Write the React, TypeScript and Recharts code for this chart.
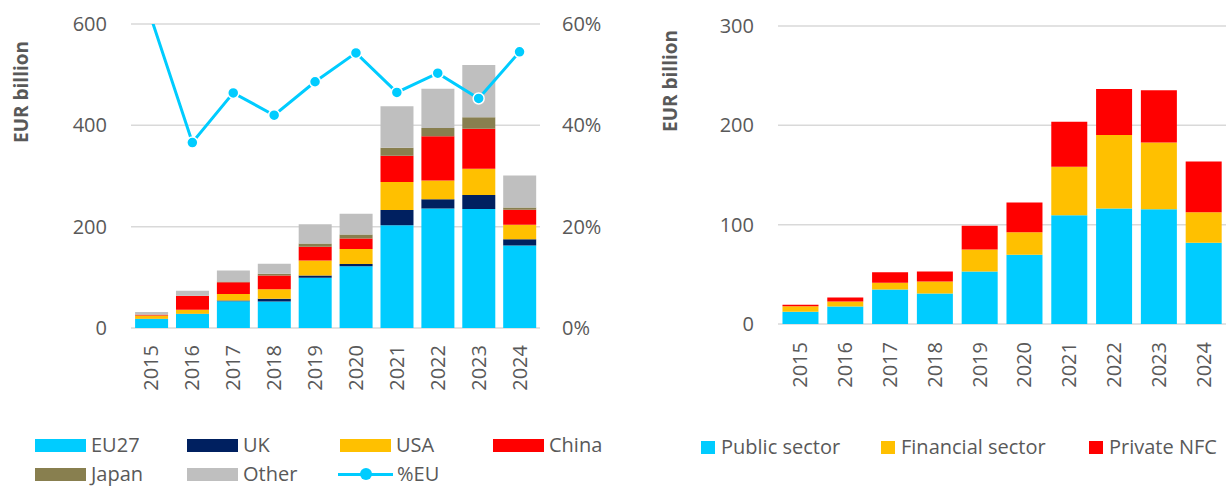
import { ComposedChart, BarChart, Bar, Line, XAxis, YAxis, CartesianGrid, Label } from "recharts";

const years = ["2015", "2016", "2017", "2018", "2019", "2020", "2021", "2022", "2023", "2024"];

// left panel, EUR billion by investor
const eu27 = [18, 27.5, 53, 52.5, 99, 122, 203, 236, 235, 163];
const uk = [0.5, 0.5, 1.5, 5, 4.5, 4.5, 30, 18, 27.5, 12];
const usa = [6, 8, 12.5, 19, 29.5, 29.5, 55, 37, 52, 29];
const china = [1.5, 27, 23.5, 27, 27.5, 20.5, 52, 87.5, 79, 29.5];
const japan = [0.5, 0.5, 1.5, 3.5, 6.5, 8, 16, 16, 22.5, 4.5];
const other = [5, 10, 21.5, 20, 38, 41, 81.5, 77.5, 103, 63];
const pctEU = [0.61, 0.366, 0.464, 0.42, 0.486, 0.543, 0.465, 0.503, 0.453, 0.545];

// right panel, EUR billion by sector
const publicSector = [12.4, 17.7, 34.8, 30.8, 52.9, 69.6, 109.5, 116.2, 115.5, 81.7];
const financialSector = [5.4, 5, 6.7, 12, 22, 22.8, 48.9, 74, 67.3, 30.8];
const privateNFC = [1.7, 4, 10.7, 10, 24, 30, 45.2, 46.5, 52.6, 51.2];

const leftTicks = [0, 200, 400, 600];
const pctTicks = [0, 0.2, 0.4, 0.6];
const rightTicks = [0, 100, 200, 300];

const leftData = years.map((year, i) => ({
  year,
  eu27: eu27[i],
  uk: uk[i],
  usa: usa[i],
  china: china[i],
  japan: japan[i],
  other: other[i],
  pctEU: pctEU[i],
}));

const rightData = years.map((year, i) => ({
  year,
  publicSector: publicSector[i],
  financialSector: financialSector[i],
  privateNFC: privateNFC[i],
}));

const TEXT = "#595959";
const GRID = "#d9d9d9";
const C = {
  eu27: "#00CCFF",
  uk: "#002060",
  usa: "#FFC000",
  china: "#FF0000",
  japan: "#887F4F",
  other: "#BFBFBF",
};

const YearTick = (props: any) => {
  const { x, y, payload } = props;
  return (
    <text
      x={x}
      y={y}
      transform={`rotate(-90 ${x} ${y})`}
      textAnchor="end"
      dy="0.35em"
      fontSize={20}
      fill={TEXT}
    >
      {payload.value}
    </text>
  );
};

const PctDot = (props: any) => {
  const { cx, cy, payload, index } = props;
  if (payload.pctEU > 0.6) return <g key={`d-${index}`} />;
  return <circle key={`d-${index}`} cx={cx} cy={cy} r={5.5} fill={C.eu27} stroke="#fff" strokeWidth={1.5} />;
};

const axisTitle = (x: number, y: number) => () => (
  <text
    x={x}
    y={y}
    transform={`rotate(-90 ${x} ${y})`}
    textAnchor="middle"
    dominantBaseline="central"
    fontSize={19}
    fontWeight="bold"
    fill={TEXT}
  >
    EUR billion
  </text>
);

const legendText = { position: "absolute" as const, fontSize: 20, color: TEXT, lineHeight: "20px", whiteSpace: "nowrap" as const };

function Swatch({ x, y, w, color }: { x: number; y: number; w: number; color: string }) {
  return <div style={{ position: "absolute", left: x, top: y - 6.5, width: w, height: 13, background: color }} />;
}

function LeftLegend() {
  const items = [
    { name: "EU27", color: C.eu27, col: 0, row: 0 },
    { name: "UK", color: C.uk, col: 1, row: 0 },
    { name: "USA", color: C.usa, col: 2, row: 0 },
    { name: "China", color: C.china, col: 3, row: 0 },
    { name: "Japan", color: C.japan, col: 0, row: 1 },
    { name: "Other", color: C.other, col: 1, row: 1 },
  ];
  const colX = [35, 187, 340, 493];
  const rowY = [445, 474];
  return (
    <>
      {items.map((it) => (
        <div key={it.name}>
          <Swatch x={colX[it.col]} y={rowY[it.row]} w={51} color={it.color} />
          <span style={{ ...legendText, left: colX[it.col] + 56, top: rowY[it.row] - 10 }}>{it.name}</span>
        </div>
      ))}
      <div style={{ position: "absolute", left: 338, top: rowY[1] - 1.5, width: 55, height: 3, background: C.eu27 }} />
      <div style={{ position: "absolute", left: 360, top: rowY[1] - 6, width: 12, height: 12, borderRadius: 6, background: C.eu27 }} />
      <span style={{ ...legendText, left: 397, top: rowY[1] - 10 }}>%EU</span>
    </>
  );
}

function RightLegend() {
  const items = [
    { name: "Public sector", color: C.eu27, x: 701 },
    { name: "Financial sector", color: C.usa, x: 881 },
    { name: "Private NFC", color: C.china, x: 1089 },
  ];
  return (
    <>
      {items.map((it) => (
        <div key={it.name}>
          <Swatch x={it.x} y={447} w={14} color={it.color} />
          <span style={{ ...legendText, left: it.x + 20, top: 447 - 10 }}>{it.name}</span>
        </div>
      ))}
    </>
  );
}

export default function App() {
  return (
    <div
      style={{
        position: "absolute",
        left: 0,
        top: 0,
        width: 1227,
        height: 486,
        background: "#fff",
        fontFamily: "'Open Sans', sans-serif",
        overflow: "hidden",
      }}
    >
      <div style={{ position: "absolute", left: 0, top: 0 }}>
        <ComposedChart width={620} height={486} data={leftData} margin={{ top: 24, right: 0, bottom: 0, left: 0 }} barCategoryGap="10%">
          <CartesianGrid vertical={false} stroke={GRID} strokeWidth={1.5} />
          <XAxis dataKey="year" height={158} tickSize={0} tickMargin={17} axisLine={false} tickLine={false} interval={0} tick={<YearTick />} />
          <YAxis
            width={131}
            domain={[0, 600]}
            ticks={leftTicks}
            tickSize={0}
            tickMargin={24}
            axisLine={false}
            tickLine={false}
            tick={{ fontSize: 20, fill: TEXT }}
            label={<Label content={axisTitle(21, 92)} />}
          />
          <YAxis
            yAxisId="right"
            orientation="right"
            width={80}
            domain={[0, 0.6]}
            ticks={pctTicks}
            allowDataOverflow
            tickSize={0}
            tickMargin={22}
            axisLine={false}
            tickLine={false}
            tick={{ fontSize: 20, fill: TEXT }}
            tickFormatter={(v: number) => `${Math.round(v * 100)}%`}
          />
          <Bar dataKey="eu27" stackId="a" fill={C.eu27} isAnimationActive={false} />
          <Bar dataKey="uk" stackId="a" fill={C.uk} isAnimationActive={false} />
          <Bar dataKey="usa" stackId="a" fill={C.usa} isAnimationActive={false} />
          <Bar dataKey="china" stackId="a" fill={C.china} isAnimationActive={false} />
          <Bar dataKey="japan" stackId="a" fill={C.japan} isAnimationActive={false} />
          <Bar dataKey="other" stackId="a" fill={C.other} isAnimationActive={false} />
          <Line
            yAxisId="right"
            type="linear"
            dataKey="pctEU"
            stroke={C.eu27}
            strokeWidth={3}
            dot={<PctDot />}
            activeDot={false}
            isAnimationActive={false}
          />
        </ComposedChart>
      </div>
      <div style={{ position: "absolute", left: 620, top: 0 }}>
        <BarChart width={607} height={486} data={rightData} margin={{ top: 26, right: 1, bottom: 0, left: 0 }} barCategoryGap="10%">
          <CartesianGrid vertical={false} stroke={GRID} strokeWidth={1.5} />
          <XAxis dataKey="year" height={162} tickSize={0} tickMargin={18} axisLine={false} tickLine={false} interval={0} tick={<YearTick />} />
          <YAxis
            width={158}
            domain={[0, 300]}
            ticks={rightTicks}
            tickSize={0}
            tickMargin={24}
            axisLine={false}
            tickLine={false}
            tick={{ fontSize: 20, fill: TEXT }}
            label={<Label content={axisTitle(50, 81)} />}
          />
          <Bar dataKey="publicSector" stackId="s" fill={C.eu27} isAnimationActive={false} />
          <Bar dataKey="financialSector" stackId="s" fill={C.usa} isAnimationActive={false} />
          <Bar dataKey="privateNFC" stackId="s" fill={C.china} isAnimationActive={false} />
        </BarChart>
      </div>
      <LeftLegend />
      <RightLegend />
    </div>
  );
}
